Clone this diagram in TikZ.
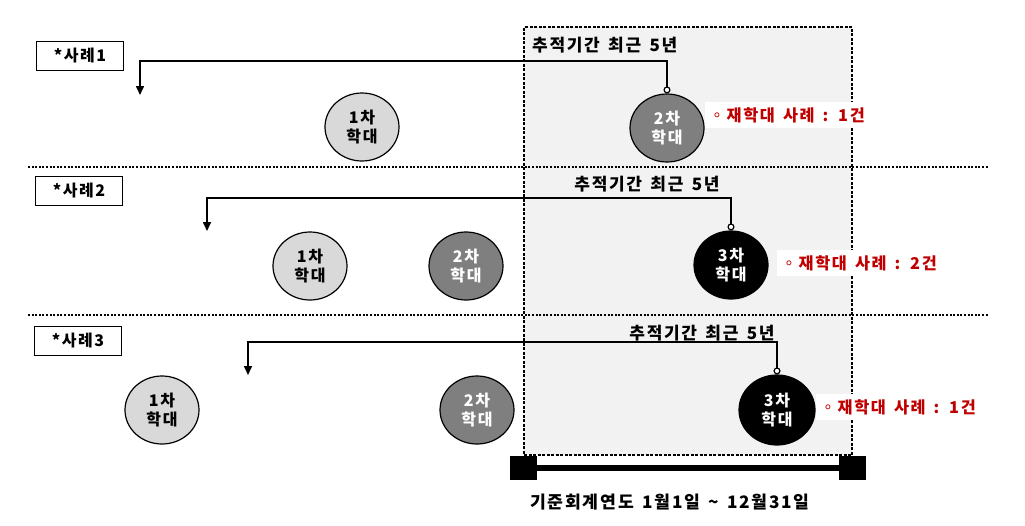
\documentclass[tikz,border=0pt]{standalone}
\usepackage{fontspec}
\setmainfont{Noto Sans CJK KR}[LetterSpace=10, WordSpace=1.5]
\usetikzlibrary{arrows.meta}
\usetikzlibrary{calc}
\usetikzlibrary{positioning}
\usetikzlibrary{shapes.geometric}
\definecolor{lightfill}{HTML}{D9D9D9}
\definecolor{darkfill}{HTML}{7F7F7F}
\definecolor{boxfill}{HTML}{F2F2F2}
\definecolor{notered}{HTML}{C00000}
\tikzset{
  every picture/.style={font={\bfseries\fontsize{16}{19}\selectfont}, >=stealth}}

\begin{document}
\begin{tikzpicture}[x=1pt, y=-1pt,
    caselabel/.style={draw, line width=1.3pt, minimum width=87pt, minimum height=29pt, inner sep=0pt},
    first/.style={draw, ellipse, line width=1.2pt, minimum width=74pt, minimum height=68pt,
      inner sep=0pt, fill=lightfill, align=center},
    second/.style={first, fill=darkfill, text=white},
    third/.style={first, fill=black, text=white},
    title/.style={inner sep=0pt, font={\bfseries\fontsize{17}{19}\selectfont}},
    note/.style={fill=white, text=notered, inner xsep=4pt, inner ysep=5pt, anchor=west,
      font={\bfseries\fontsize{16.3}{19}\selectfont}},
    track/.style={line width=1.6pt, {Circle[fill=white,length=7pt,width=7pt,line width=1.2pt]}-{Triangle[length=9pt,width=8pt]}},
    sep/.style={line width=1.8pt, dash pattern=on 2pt off 1.6pt},
    window/.style={draw, fill=boxfill, line width=1.2pt, dash pattern=on 3pt off 1.5pt,
      minimum width=328pt, minimum height=428pt, inner sep=0pt},
    endsq/.style={fill=black, minimum width=27pt, minimum height=24pt, inner sep=0pt}]

    \useasboundingbox (0,0) rectangle (1025,525);

    % tracking window and reference year
    \node[window] (period) at (688,241) {};
    \node[endsq, anchor=north] (ys) at (period.south west) {};
    \node[endsq, anchor=north] (ye) at (period.south east) {};
    \draw[line width=6pt] (ys) -- (ye);
    \node[font={\bfseries\fontsize{17.2}{20}\selectfont}] (year) at (670,502) {기준회계연도 1월1일 \textasciitilde{} 12월31일};

    \draw[sep] (28,167) -- (988,167);
    \draw[sep] (28,315) -- (988,315);

    % case 1
    \node[caselabel] (case1) at (80,56) {*사례1};
    \node[title, anchor=west] (t1) at (532,45) {추적기간 최근 5년};
    \node[first] (c1a) at (362,127) {1차\\학대};
    \node[second] (c1b) at (667,128) {2차\\학대};
    \coordinate (k1) at (140,61);
    \coordinate (a1) at (140,95);
    \draw[track] (c1b.north) |- (k1) -- (a1);
    \node[note, right=0pt of c1b.east, yshift=13pt] (n1) {◦재학대 사례 : 1건};

    % case 2
    \node[caselabel] (case2) at (79,191) {*사례2};
    \node[title] (t2) at (647,184) {추적기간 최근 5년};
    \node[first] (c2a) at (310,266) {1차\\학대};
    \node[second] (c2b) at (466,266) {2차\\학대};
    \node[third] (c2c) at (731,265) {3차\\학대};
    \coordinate (k2) at (207,198);
    \coordinate (a2) at (207,231);
    \draw[track] (c2c.north) |- (k2) -- (a2);
    \node[note, right=8pt of c2c.east, yshift=2pt] (n2) {◦재학대 사례 : 2건};

    % case 3
    \node[caselabel] (case3) at (78,341) {*사례3};
    \node[title] (t3) at (702,333) {추적기간 최근 5년};
    \node[first] (c3a) at (162,410) {1차\\학대};
    \node[second] (c3b) at (477,410) {2차\\학대};
    \node[third, minimum width=76pt, minimum height=70pt] (c3c) at (777,410) {3차\\학대};
    \coordinate (k3) at (248,342);
    \coordinate (a3) at (248,375);
    \draw[track] (c3c.north) |- (k3) -- (a3);
    \node[note, right=0pt of c3c.east, yshift=3pt] (n3) {◦재학대 사례 : 1건};
  \end{tikzpicture}
\end{document}
